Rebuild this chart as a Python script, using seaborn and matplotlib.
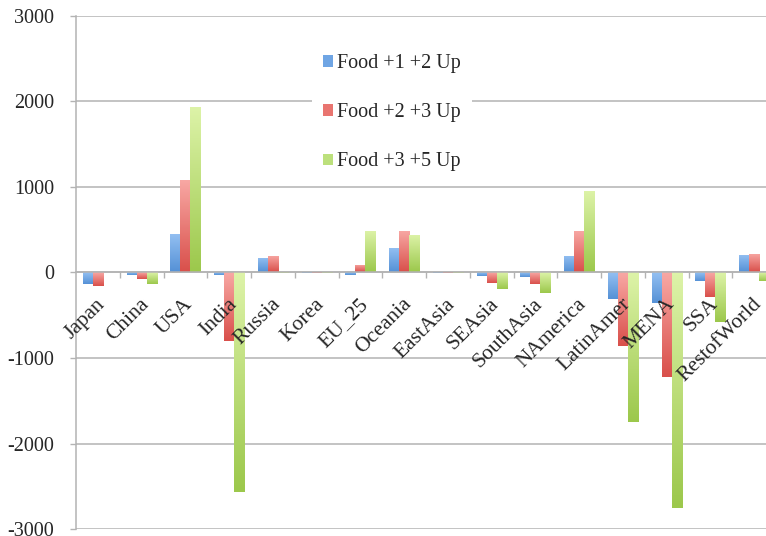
import numpy as np
import pandas as pd
import matplotlib
matplotlib.use("Agg")
import matplotlib.pyplot as plt
import matplotlib.transforms as mtransforms
from matplotlib.colors import LinearSegmentedColormap
from matplotlib.patches import Patch
import seaborn as sns

# Regional change by food price scenario
regions = ["Japan", "China", "USA", "India", "Russia", "Korea", "EU_25", "Oceania",
           "EastAsia", "SEAsia", "SouthAsia", "NAmerica", "LatinAmer", "MENA", "SSA",
           "RestofWorld"]
food_1_2 = [-138, -35, 450, -30, 170, -5, -30, 286, -3, -44, -56, 193, -310, -360, -96, 208]
food_2_3 = [-158, -76, 1080, -797, 193, -5, 84, 481, -3, -119, -134, 488, -862, -1221, -286, 216]
food_3_5 = [5, -138, 1930, -2567, -10, -5, 488, 434, -3, -196, -236, 948, -1746, -2747, -575, -96]
series_names = ["Food +1 +2 Up", "Food +2 +3 Up", "Food +3 +5 Up"]
yticks = [-3000, -2000, -1000, 0, 1000, 2000, 3000]

# light (top) / dark (bottom) shade of each series
shades = [("#94c0f2", "#5591d6"), ("#f8a8a4", "#d9504b"), ("#ddf3a8", "#9cc84c")]
legend_colors = ["#6fa5e4", "#e97570", "#bce07c"]
base_colors = [s[1] for s in shades]

df = pd.DataFrame({
    "region": regions * 3,
    "series": [series_names[0]] * 16 + [series_names[1]] * 16 + [series_names[2]] * 16,
    "value": food_1_2 + food_2_3 + food_3_5,
})

sns.set_style("white")
plt.rcParams["font.family"] = ["Liberation Serif", "DejaVu Serif"]

fig = plt.figure(figsize=(7.66, 5.36), dpi=100)
ax = fig.add_axes([76 / 766, 6.7 / 536, 700 / 766, 513.8 / 536])

sns.barplot(data=df, x="region", y="value", hue="series", order=regions,
            hue_order=series_names, palette=base_colors, width=0.69,
            gap=0, dodge=True, legend=False, ax=ax, errorbar=None,
            saturation=1, linewidth=0)

# vertical gradient fill on every bar
grad = np.linspace(0, 1, 64).reshape(-1, 1)
for container, (light, dark) in zip(ax.containers, shades):
    cmap = LinearSegmentedColormap.from_list("g", [light, dark])
    for bar in container:
        x0 = bar.get_x()
        w = bar.get_width()
        y0 = bar.get_y()
        h = bar.get_height()
        lo, hi = min(y0, y0 + h), max(y0, y0 + h)
        if hi - lo <= 0:
            continue
        im = ax.imshow(grad, cmap=cmap, extent=[x0, x0 + w, lo, hi],
                       aspect="auto", origin="upper", zorder=2,
                       interpolation="bilinear")
        im.set_clip_path(bar)
        bar.set_facecolor("none")

ax.set_xlim(-0.5, 15.5)
ax.set_ylim(-3000, 3000)
ax.set_axisbelow(False)

grid_c = "#b3b3b3"
ax.set_yticks(yticks)
ax.set_yticklabels([str(v) for v in yticks])
for v in yticks:
    ax.axhline(v, color=grid_c, linewidth=1.1, zorder=0.5)
ax.tick_params(axis="y", direction="out", length=4.5, width=1, color=grid_c,
               pad=11, labelsize=14.5, left=True)

# category axis crosses at zero
for s in ["top", "right"]:
    ax.spines[s].set_visible(False)
ax.spines["left"].set_color(grid_c)
ax.spines["left"].set_linewidth(1.1)
ax.spines["bottom"].set_position(("data", 0))
ax.spines["bottom"].set_color(grid_c)
ax.spines["bottom"].set_linewidth(1.1)

ax.set_xticks(np.arange(len(regions)) + 0.5)
ax.set_xticklabels([])
ax.tick_params(axis="x", which="major", direction="out", length=4, width=1,
               color=grid_c, bottom=True)
ax.set_xticks(np.arange(len(regions)), minor=True)
ax.set_xticklabels(regions, minor=True, rotation=45, ha="right",
                   rotation_mode="anchor", va="top", fontsize=15.5)
ax.tick_params(axis="x", which="minor", length=0, pad=16)
off = mtransforms.ScaledTranslation(-2 / 100, 0, fig.dpi_scale_trans)
for lab in ax.get_xticklabels(minor=True):
    lab.set_transform(lab.get_transform() + off)

ax.set_xlabel("")
ax.set_ylabel("")

handles = [Patch(facecolor=c, edgecolor="none") for c in legend_colors]
leg = ax.legend(handles, series_names, loc="upper left",
                bbox_to_anchor=(312 / 766, 1 - 43 / 536), bbox_transform=fig.transFigure,
                frameon=True, fontsize=14.5, handlelength=0.5, handleheight=0.5,
                handletextpad=0.2, labelspacing=1.5, borderpad=0.55,
                borderaxespad=0)
leg.get_frame().set_facecolor("white")
leg.get_frame().set_edgecolor("none")
leg.get_frame().set_alpha(1)
leg.set_zorder(5)

fig.savefig("out.png", dpi=100)
